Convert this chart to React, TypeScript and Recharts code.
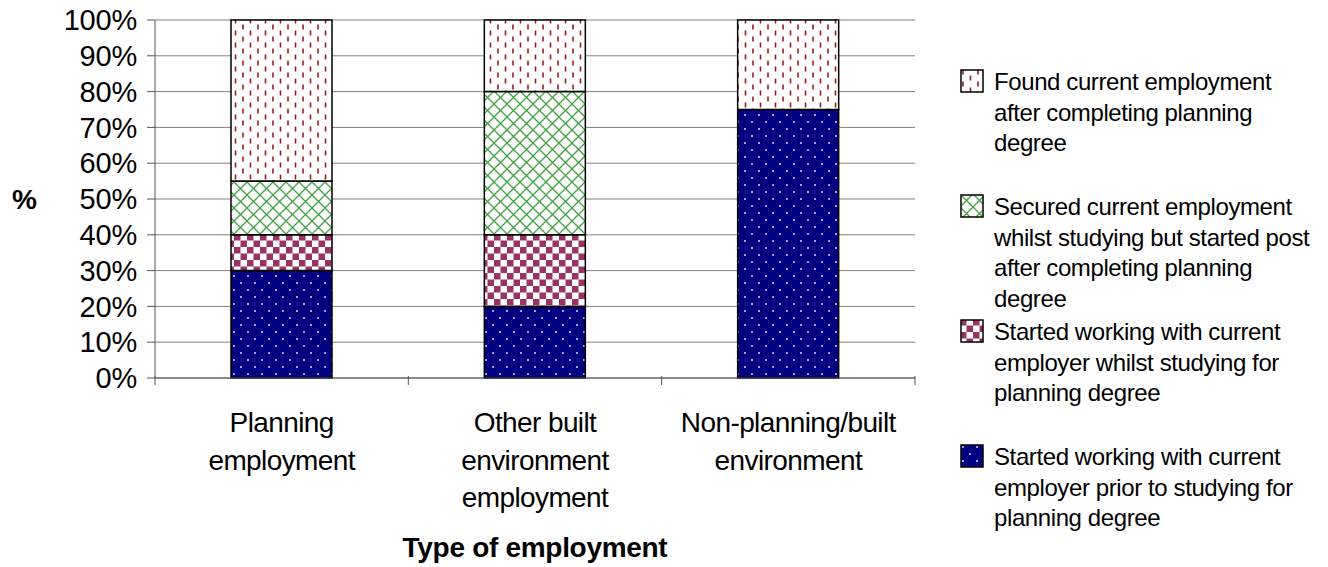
import React from 'react';
import { BarChart, Bar, XAxis, YAxis, CartesianGrid, Label } from 'recharts';

const categories = ['Planning\nemployment', 'Other built\nenvironment\nemployment', 'Non-planning/built\nenvironment'];
const priorToStudying = [30, 20, 75];
const whilstStudying = [10, 20, 0];
const securedWhilstStudying = [15, 40, 0];
const afterCompleting = [45, 20, 25];
const yTicks = [0, 10, 20, 30, 40, 50, 60, 70, 80, 90, 100];

const seriesKeys = ['prior', 'whilst', 'secured', 'after'];
const seriesNames: Record<string, string> = {
  prior: 'Started working with current\nemployer prior to studying for\nplanning degree',
  whilst: 'Started working with current\nemployer whilst studying for\nplanning degree',
  secured: 'Secured current employment\nwhilst studying but started post\nafter completing planning\ndegree',
  after: 'Found current employment\nafter completing planning\ndegree',
};

const data = categories.map((name, i) => ({
  name,
  prior: priorToStudying[i],
  whilst: whilstStudying[i],
  secured: securedWhilstStudying[i],
  after: afterCompleting[i],
}));

const W = 1328;
const H = 567;
const Y_AXIS_W = 155;
const X_AXIS_H = 189;
const M = { top: 20, right: 413, bottom: 0, left: 0 };
const BAND = (W - Y_AXIS_W - M.right) / categories.length;
const FONT = '"Liberation Sans", Arial, sans-serif';

const fills: Record<string, string> = {
  after: 'url(#patAfter)',
  secured: 'url(#patSecured)',
  whilst: 'url(#patWhilst)',
  prior: 'url(#patPrior)',
};

const XTick = (props: any) => {
  const { x, y, payload, index } = props;
  const lines = String(payload.value).split('\n');
  return (
    <g>
      <line x1={x - BAND / 2} x2={x - BAND / 2} y1={y - 10} y2={y - 1} stroke="#555" />
      {index === categories.length - 1 && (
        <line x1={x + BAND / 2} x2={x + BAND / 2} y1={y - 10} y2={y - 1} stroke="#555" />
      )}
      <text x={x} y={y + 46} textAnchor="middle" fontSize={28} fontFamily={FONT} fill="#000" letterSpacing={-0.6}>
        {lines.map((l, k) => (
          <tspan key={k} x={x} dy={k === 0 ? 0 : 37.5}>
            {l}
          </tspan>
        ))}
      </text>
    </g>
  );
};

const ChartLegend = () => (
  <div
    style={{
      position: 'absolute',
      left: 960,
      top: 67,
      width: 368,
      fontFamily: FONT,
      fontSize: 24,
      letterSpacing: -0.4,
      color: '#000',
    }}
  >
    {[...seriesKeys].reverse().map((k) => (
      <div key={k} style={{ height: 125, position: 'relative' }}>
        <svg width={24} height={24} style={{ position: 'absolute', left: 0, top: 2 }}>
          <rect x={1} y={1} width={22} height={22} fill={fills[k]} stroke="#000" strokeWidth={1.5} />
        </svg>
        <div style={{ position: 'absolute', left: 34, top: 0, whiteSpace: 'pre', lineHeight: '30.5px' }}>
          {seriesNames[k]}
        </div>
      </div>
    ))}
  </div>
);

export default function App() {
  return (
    <div style={{ position: 'absolute', left: 0, top: 0, width: W, height: H, background: '#fff' }}>
      <BarChart width={W} height={H} data={data} margin={M} barCategoryGap="30%">
        <defs>
          <pattern id="patPrior" width={14} height={14} patternUnits="userSpaceOnUse">
            <rect width={14} height={14} fill="#000080" />
            <circle cx={3} cy={3} r={1} fill="#ddd" />
            <circle cx={10} cy={10} r={1} fill="#ddd" />
          </pattern>
          <pattern id="patWhilst" width={13} height={13} patternUnits="userSpaceOnUse">
            <rect width={13} height={13} fill="#fff" />
            <rect width={6.5} height={6.5} fill="#993366" />
            <rect x={6.5} y={6.5} width={6.5} height={6.5} fill="#993366" />
          </pattern>
          <pattern id="patSecured" width={13} height={13} patternUnits="userSpaceOnUse">
            <rect width={13} height={13} fill="#fff" />
            <path d="M0 0 L13 13 M13 0 L0 13" stroke="#3fa33f" strokeWidth={1.3} />
          </pattern>
          <pattern id="patAfter" width={15} height={12} patternUnits="userSpaceOnUse">
            <rect width={15} height={12} fill="#fff" />
            <line x1={3} x2={3} y1={0.5} y2={5.5} stroke="#9b1c1c" strokeWidth={1.6} />
            <line x1={10.5} x2={10.5} y1={6.5} y2={11.5} stroke="#9b1c1c" strokeWidth={1.6} />
          </pattern>
        </defs>
        <CartesianGrid vertical={false} stroke="#808080" />
        <XAxis dataKey="name" stroke="#555" tickLine={false} tick={<XTick />} interval={0} height={X_AXIS_H}>
          <Label
            value="Type of employment"
            position="insideBottom"
            offset={10}
            style={{ fontFamily: FONT, fontSize: 28, fontWeight: 'bold', fill: '#000', letterSpacing: -0.3 }}
          />
        </XAxis>
        <YAxis
          domain={[0, 100]}
          ticks={yTicks}
          interval={0}
          tickFormatter={(v: number) => `${v}%`}
          stroke="#555"
          tickSize={8}
          tickMargin={10}
          width={Y_AXIS_W}
          tick={{ fontFamily: FONT, fontSize: 29, fill: '#000', letterSpacing: -0.2 }}
        >
          <Label
            value="%"
            position="insideLeft"
            offset={12}
            style={{ fontFamily: FONT, fontSize: 28, fontWeight: 'bold', fill: '#000' }}
          />
        </YAxis>
        {seriesKeys.map((k) => (
          <Bar
            key={k}
            dataKey={k}
            name={seriesNames[k]}
            stackId="a"
            fill={fills[k]}
            stroke="#000"
            strokeWidth={1.5}
            isAnimationActive={false}
          />
        ))}
      </BarChart>
      <ChartLegend />
    </div>
  );
}
